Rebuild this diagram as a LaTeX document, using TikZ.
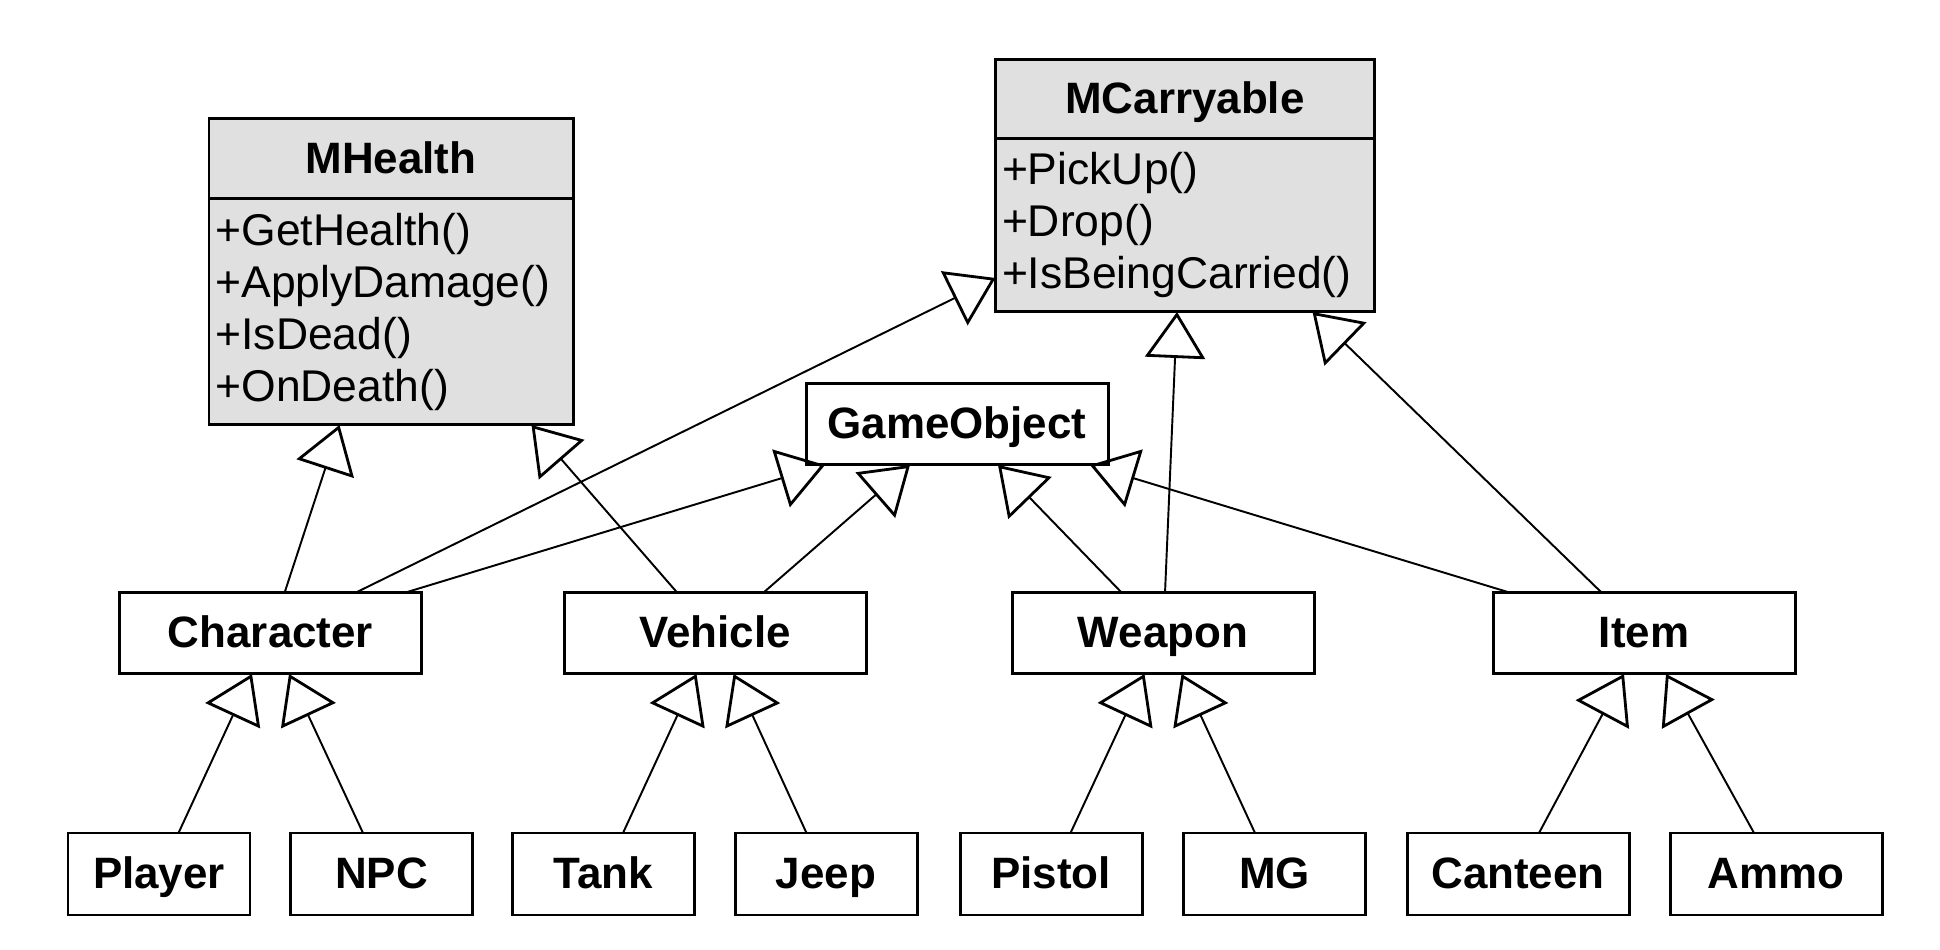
\documentclass[tikz,border=0pt]{standalone}
\usepackage{fontspec}
\setmainfont{Liberation Sans}
\usetikzlibrary{positioning,arrows.meta}
\definecolor{mixgray}{HTML}{E0E0E0}

\begin{document}
\begin{tikzpicture}
  [ head/.style={rectangle, draw=black, line width=1.7pt, outer sep=0pt, fill=mixgray, inner sep=0pt,
      font=\fontsize{25}{30}\selectfont\bfseries, text height=22pt, text depth=6pt},
    ops/.style={rectangle, draw=black, line width=1.7pt, outer sep=0pt, fill=mixgray,
      inner xsep=0.13cm, inner ysep=0pt, align=left, font=\fontsize{25.3}{29.6}\selectfont},
    cls/.style={rectangle, draw=black, line width=1.7pt, outer sep=0pt, fill=white, inner sep=0pt,
      minimum width=6.04cm, minimum height=1.62cm,
      font=\fontsize{25}{30}\selectfont\bfseries, text height=22pt, text depth=6pt},
    leaf/.style={cls, minimum width=3.64cm, minimum height=1.64cm},
    line/.style={-{Triangle[open, length=0.92cm, width=1.2cm, line width=1.6pt]}, line width=1.1pt, black}
  ]
  \useasboundingbox (0,0) rectangle (38.8,19);

  % mixins
  \node[head, minimum width=7.28cm, minimum height=1.6cm] (mhealth) at (7.82,15.82) {MHealth};
  \node[ops, text width=7.02cm, minimum height=4.52cm, below=0pt of mhealth] (mhealthops)
    {+GetHealth()\\+ApplyDamage()\\+IsDead()\\+OnDeath()};
  \node[head, minimum width=7.58cm, minimum height=1.58cm] (mcarry) at (23.7,17.01) {MCarryable};
  \node[ops, text width=7.32cm, minimum height=3.46cm, below=0pt of mcarry] (mcarryops)
    {+PickUp()\\+Drop()\\+IsBeingCarried()};

  % base class
  \node[cls] (gameobject) at (19.14,10.51) {GameObject};

  % middle row
  \node[cls] (character) at (5.41,6.33) {Character};
  \node[cls] (vehicle) at (14.3,6.33) {Vehicle};
  \node[cls] (weapon) at (23.26,6.33) {Weapon};
  \node[cls] (item) at (32.88,6.33) {Item};

  % bottom row
  \node[leaf] (player) at (3.18,1.52) {Player};
  \node[leaf] (npc) at (7.63,1.52) {NPC};
  \node[leaf] (tank) at (12.07,1.52) {Tank};
  \node[leaf] (jeep) at (16.52,1.52) {Jeep};
  \node[leaf] (pistol) at (21.02,1.52) {Pistol};
  \node[leaf] (mg) at (25.49,1.52) {MG};
  \node[leaf, minimum width=4.44cm] (canteen) at (30.36,1.52) {Canteen};
  \node[leaf, minimum width=4.24cm] (ammo) at (35.52,1.52) {Ammo};

  \draw [line] ([xshift=0.39cm]player.north) -- ([xshift=-0.37cm]character.south);
  \draw [line] ([xshift=-0.37cm]npc.north) -- ([xshift=0.37cm]character.south);
  \draw [line] ([xshift=0.39cm]tank.north) -- ([xshift=-0.37cm]vehicle.south);
  \draw [line] ([xshift=-0.39cm]jeep.north) -- ([xshift=0.37cm]vehicle.south);
  \draw [line] ([xshift=0.39cm]pistol.north) -- ([xshift=-0.37cm]weapon.south);
  \draw [line] ([xshift=-0.39cm]mg.north) -- ([xshift=0.37cm]weapon.south);
  \draw [line] ([xshift=0.42cm]canteen.north) -- ([xshift=-0.4cm]item.south);
  \draw [line] ([xshift=-0.44cm]ammo.north) -- ([xshift=0.44cm]item.south);

  \draw [line] ([xshift=0.28cm]character.north) -- ([xshift=-1.03cm]mhealthops.south);
  \draw [line] ([xshift=1.69cm]character.north) -- ([yshift=0.68cm]mcarryops.south west);
  \draw [line] ([xshift=2.67cm]character.north) -- ([xshift=-2.64cm]gameobject.south);
  \draw [line] ([xshift=-0.75cm]vehicle.north) -- ([xshift=2.81cm]mhealthops.south);
  \draw [line] ([xshift=0.96cm]vehicle.north) -- ([xshift=-0.94cm]gameobject.south);
  \draw [line] ([xshift=-0.82cm]weapon.north) -- ([xshift=0.82cm]gameobject.south);
  \draw [line] ([xshift=0.04cm]weapon.north) -- ([xshift=-0.16cm]mcarryops.south);
  \draw [line] ([xshift=-2.66cm]item.north) -- ([xshift=2.66cm]gameobject.south);
  \draw [line] ([xshift=-0.84cm]item.north) -- ([xshift=2.55cm]mcarryops.south);
\end{tikzpicture}
\end{document}
